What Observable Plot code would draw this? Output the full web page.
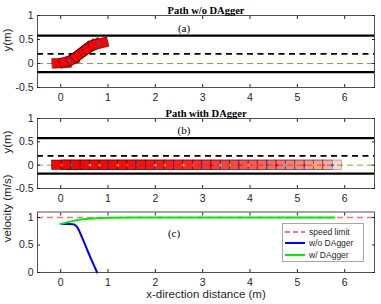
<!DOCTYPE html>
<html><head><meta charset="utf-8">
<script src="https://cdn.jsdelivr.net/npm/d3@7"></script>
<script src="https://cdn.jsdelivr.net/npm/@observablehq/plot@0.6"></script>
<style>
body{margin:0;background:#fff;}
#fig{position:relative;width:381px;height:304px;overflow:hidden;background:#fff;font-family:"Liberation Sans",Arial,sans-serif;}
#fig svg{position:absolute;left:0;overflow:visible;}
#legend{position:absolute;left:282px;top:223px;width:80px;height:37px;background:#fff;border:1px solid #a8a8a8;font-size:8.5px;color:#262626;}
#legend .row{position:absolute;left:0;height:10px;display:flex;align-items:center;}
#legend .row svg{position:static;}
#legend .row span{margin-left:3px;}
</style></head><body><div id="fig"></div>
<script>
// ---- data ----
const xTicks = [0, 1, 2, 3, 4, 5, 6];
const yTicksPath = [-0.5, 0, 0.5, 1];
const yTicksVel = [0, 0.5, 1];
const laneSolid = [0.58, -0.18];
const laneDashed = [0.2];
const centerLine = [0];

// path w/o DAgger: car centres (m) and heading (deg)
const carAx = [0.02, 0.18, 0.32, 0.42, 0.50, 0.58, 0.66, 0.80];
const carAy = [0.01, 0.06, 0.14, 0.21, 0.27, 0.32, 0.36, 0.41];
const carAh = [3, 18, 35, 38, 38, 35, 28, 14];
const dotsA = [1, 7];

// path with DAgger: car centres (m), y = 0
const carBx = [0.02, 0.22, 0.42, 0.62, 0.82, 1.02, 1.21, 1.41, 1.61, 1.80,
               2.00, 2.20, 2.39, 2.59, 2.79, 2.99, 3.18, 3.38, 3.58, 3.77,
               3.97, 4.17, 4.36, 4.56, 4.76, 4.96, 5.15, 5.35, 5.55, 5.74];

// velocity profiles
const speedLimit = [1];
const woX = [0, 0.1, 0.2, 0.28, 0.33, 0.38, 0.42, 0.5, 0.59, 0.68, 0.77];
const woV = [0.88, 0.88, 0.88, 0.875, 0.845, 0.78, 0.70, 0.54, 0.35, 0.17, 0.0];
const wX = [0, 0.1, 0.2, 0.3, 0.42, 0.6, 0.85, 1.1, 1.5, 2.0, 3.0, 4.0, 5.0, 5.78];
const wV = [0.88, 0.905, 0.925, 0.945, 0.962, 0.978, 0.99, 0.996, 1.0, 1.0, 1.0, 1.0, 1.0, 1.0];

const legendItems = ["speed limit", "w/o DAgger", "w/ DAgger"];

// ---- styles ----
const CAR_L = 0.4, CAR_W = 0.2;
const matlab = ["#0072bd", "#d95319", "#edb120", "#7e2f8e", "#77ac30", "#4dbeee", "#a2142f"];
const ink = "#262626";
const W = 381, ML = 37, MR = 7;
const xDomain = [-0.49, 6.63];

const fig = document.getElementById("fig");

function corners(cx, cy, hdeg, id) {
  const h = hdeg * Math.PI / 180, c = Math.cos(h), s = Math.sin(h);
  return [[-1, -1], [1, -1], [1, 1], [-1, 1]].map(([a, b]) => {
    const dx = a * CAR_L / 2, dy = b * CAR_W / 2;
    return {id, x: cx + dx * c - dy * s, y: cy + dx * s + dy * c};
  });
}

function axes(yTicks) {
  return [
    Plot.axisX(xTicks, {anchor: "bottom", tickSize: -3, tickPadding: 9, tickFormat: d => String(d), label: null, stroke: ink, fill: ink}),
    Plot.axisX(xTicks, {anchor: "top", tickSize: -3, tickFormat: () => "", label: null, stroke: ink}),
    Plot.axisY(yTicks, {anchor: "left", tickSize: -3, tickPadding: 7, tickFormat: d => String(d), label: null, stroke: ink, fill: ink}),
    Plot.axisY(yTicks, {anchor: "right", tickSize: -3, tickFormat: () => "", label: null, stroke: ink}),
    Plot.frame({stroke: ink, strokeWidth: 0.8})
  ];
}

function place(svg, top) { svg.style.top = top + "px"; fig.appendChild(svg); }

const baseStyle = {fontFamily: "Liberation Sans, Arial, sans-serif", fontSize: "10.5px", color: ink, background: "none", overflow: "visible"};

function lanes() {
  return [
    Plot.ruleY(centerLine, {stroke: "#77ac30", strokeWidth: 1, strokeDasharray: "6,4"}),
    Plot.ruleY(laneDashed, {stroke: "black", strokeWidth: 1.6, strokeDasharray: "6,4.5"}),
    Plot.ruleY(laneSolid, {stroke: "black", strokeWidth: 2.3})
  ];
}

function titleMarks(title, tag, titleDy, tagDx, tagDy) {
  return [
    Plot.text([title], {text: d => d, frameAnchor: "top", dy: titleDy, fontWeight: "bold", fontFamily: "Liberation Serif, Times New Roman, serif", fontSize: 10.5, fill: "black"}),
    Plot.text([tag], {text: d => d, frameAnchor: "top", dx: tagDx, dy: tagDy, fontFamily: "Liberation Serif, Times New Roman, serif", fontSize: 11, fill: "black"}),
    Plot.text(["y(m)"], {text: d => d, frameAnchor: "left", dx: -30, rotate: -90, fontSize: 11.5, fill: ink})
  ];
}

// ---- panel (a) ----
const polyA = carAx.flatMap((x, i) => corners(x, carAy[i], carAh[i], i));
const plotA = Plot.plot({
  width: W, height: 100, marginLeft: ML, marginRight: MR, marginTop: 15, marginBottom: 13,
  style: baseStyle,
  x: {domain: xDomain},
  y: {domain: [-0.5, 1]},
  marks: [
    ...lanes(),
    Plot.line(polyA, {x: "x", y: "y", z: "id", fill: "#ff0000", stroke: "black", strokeWidth: 0.5, curve: "linear-closed"}),
    Plot.dot(dotsA, {x: i => carAx[i], y: i => carAy[i], r: 1.4, fill: matlab[0], stroke: null}),
    ...axes(yTicksPath),
    ...titleMarks("Path w/o DAgger", "(a)", -9, -22, 8.5)
  ]
});
place(plotA, 0);

// ---- panel (b) ----
const nB = carBx.length;
const carsB = carBx.map((x, i) => ({x, y: 0, i, op: 1 - 0.82 * i / (nB - 1), col: matlab[(nB - 1 - i) % 7]}));
const plotB = Plot.plot({
  width: W, height: 104, marginLeft: ML, marginRight: MR, marginTop: 18, marginBottom: 16,
  style: baseStyle,
  x: {domain: xDomain},
  y: {domain: [-0.5, 1]},
  marks: [
    ...lanes(),
    Plot.rect(carsB, {x1: d => d.x - CAR_L / 2, x2: d => d.x + CAR_L / 2, y1: d => d.y - CAR_W / 2, y2: d => d.y + CAR_W / 2,
      fill: "#ff0000", fillOpacity: d => d.op, stroke: "black", strokeWidth: 0.5, strokeOpacity: d => 0.45 + 0.55 * d.op}),
    Plot.dot(carsB, {x: "x", y: "y", r: 1.3, fill: d => d.col, stroke: null}),
    ...axes(yTicksPath),
    ...titleMarks("Path with DAgger", "(b)", -8.5, -22, 8)
  ]
});
place(plotB, 100);

// ---- panel (c) ----
const plotC = Plot.plot({
  width: W, height: 100, marginLeft: ML, marginRight: MR, marginTop: 7.5, marginBottom: 32,
  style: baseStyle,
  x: {domain: xDomain},
  y: {domain: [0, 1.1]},
  marks: [
    Plot.ruleY(speedLimit, {stroke: "#ff7070", strokeWidth: 1.6, strokeDasharray: "6,4"}),
    Plot.line(woX.map((x, i) => ({x, v: woV[i]})), {x: "x", y: "v", stroke: "#0000ff", strokeWidth: 2}),
    Plot.line(wX.map((x, i) => ({x, v: wV[i]})), {x: "x", y: "v", stroke: "#00ee00", strokeWidth: 2}),
    ...axes(yTicksVel),
    Plot.text(["(c)"], {text: d => d, frameAnchor: "top", dx: -32, dy: 17, fontFamily: "Liberation Serif, Times New Roman, serif", fontSize: 11, fill: "black"}),
    Plot.text(["velocity (m/s)"], {text: d => d, frameAnchor: "left", dx: -30, rotate: -90, fontSize: 11.5, fill: ink}),
    Plot.text(["x-direction distance (m)"], {text: d => d, frameAnchor: "bottom", dy: 25, fontSize: 11.5, fill: ink})
  ]
});
place(plotC, 204);

// ---- legend ----
const legend = document.createElement("div");
legend.id = "legend";
const legStyles = [
  {stroke: "#ff7070", dash: "5,3"},
  {stroke: "#0000ff", dash: null},
  {stroke: "#00ee00", dash: null}
];
legendItems.forEach((t, i) => {
  const row = document.createElement("div");
  row.className = "row";
  row.style.top = (3 + i * 11.3) + "px";
  const s = legStyles[i];
  row.innerHTML = `<svg width="23" height="10"><line x1="2" x2="22" y1="5" y2="5" stroke="${s.stroke}" stroke-width="2" ${s.dash ? `stroke-dasharray="${s.dash}"` : ""}/></svg><span>${t}</span>`;
  legend.appendChild(row);
});
fig.appendChild(legend);
</script></body></html>
